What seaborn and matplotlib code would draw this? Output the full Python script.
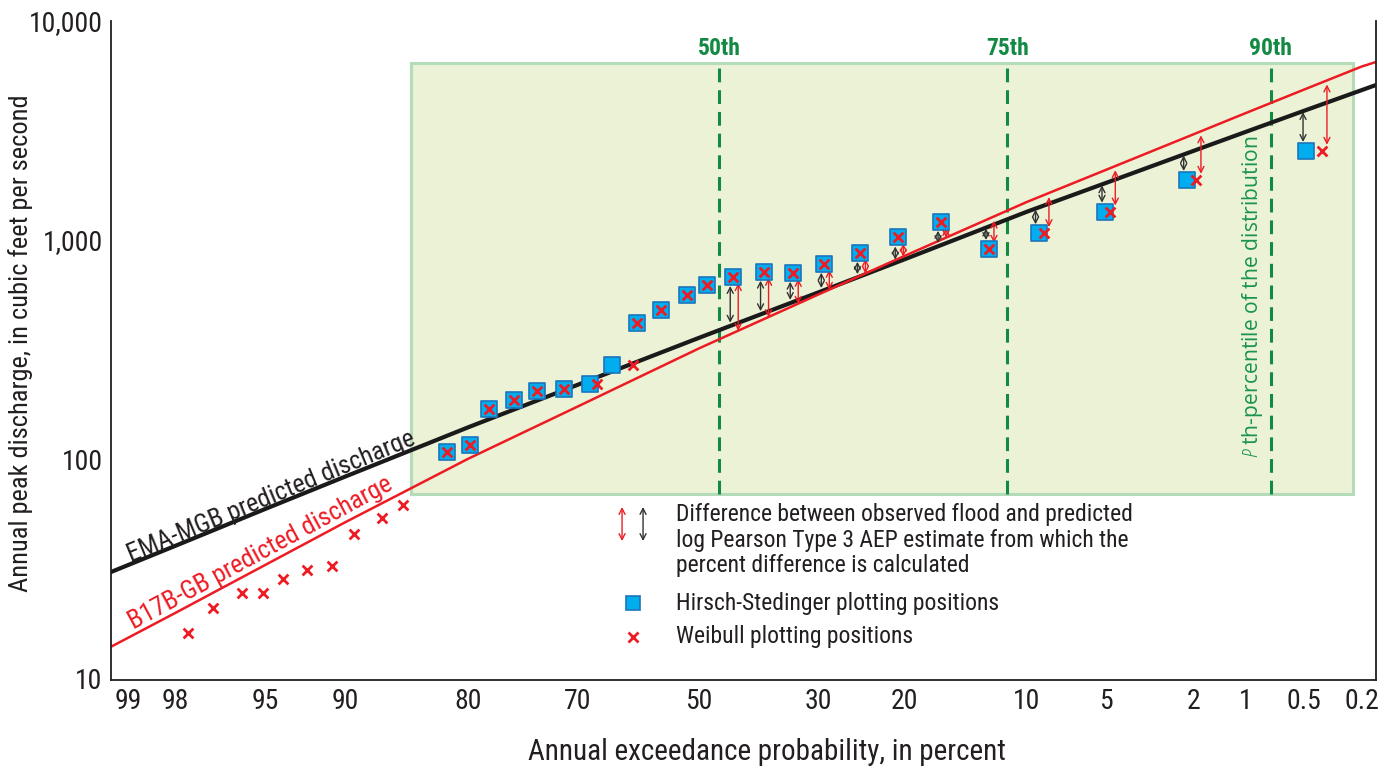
import numpy as np
import pandas as pd
import matplotlib
matplotlib.use("Agg")
import matplotlib.pyplot as plt
import seaborn as sns
from matplotlib.patches import Rectangle
from matplotlib.transforms import ScaledTranslation
from matplotlib import font_manager as fm
from statistics import NormalDist

# ---------------------------------------------------------------- data
aep_ticks = [99, 98, 95, 90, 80, 70, 50, 30, 20, 10, 5, 2, 1, 0.5, 0.2]
aep_tick_labels = ["99", "98", "95", "90", "80", "70", "50", "30", "20",
                   "10", "5", "2", "1", "0.5", "0.2"]
q_ticks = [10, 100, 1000, 10000]
q_tick_labels = ["10", "100", "1,000", "10,000"]

# observed annual peak discharges (cfs)
peak_q = [16.1, 20.9, 24.4, 24.4, 28.4, 31.1, 32.5, 45.6, 54.0, 61.5,
          108, 116, 170, 186, 205, 209, 220, 268, 417, 479, 559, 623,
          678, 717, 709, 780, 875, 1027, 1212, 910, 1073, 1347, 1879, 2550]
# Weibull plotting positions (AEP, percent) for every flood
weibull_aep = [97.7, 97.0, 96.0, 95.1, 94.1, 92.7, 91.0, 89.4, 87.5, 85.9,
               82.0, 79.8, 78.3, 76.1, 74.0, 71.4, 67.1, 61.2, 60.6, 56.5,
               52.1, 48.6, 44.0, 38.8, 33.9, 29.2, 24.8, 20.6, 16.5, 12.6,
               8.7, 4.8, 1.95, 0.38]
# Hirsch-Stedinger plotting positions for the 24 largest floods (last 24 above)
hs_aep = [82.0, 79.8, 78.3, 76.1, 74.0, 71.4, 68.2, 64.7, 60.6, 56.5,
          52.1, 48.6, 44.0, 38.8, 33.9, 29.2, 24.8, 20.6, 16.5, 12.6,
          9.1, 5.05, 2.17, 0.485]

# predicted log Pearson Type 3 frequency curves
curve_aep = [99.0, 98, 95, 90, 80, 70, 50, 30, 20, 10, 5, 2, 1, 0.5, 0.2, 0.158]
ema_mgb_q = [30.5, 40.1, 59.1, 83.1, 139.5, 218.6, 357.6, 575.9, 814.7,
             1347, 1823, 2557, 3120, 3891, 4840, 5104]
b17b_gb_q = [13.9, 19.8, 32.8, 51.4, 100.2, 174, 320, 563, 844,
             1493, 2092, 3045, 3802, 4862, 6203, 6500]

# percentiles of the distribution
pct_labels = ["50th", "75th", "90th"]
pct_aep = [46.5, 11.3, 0.75]
# highlighted region
box_aep = [85.2, 0.23]
box_q = [69, 6400]

legend_texts = ["Difference between observed flood and predicted",
                "log Pearson Type 3 AEP estimate from which the",
                "percent difference is calculated",
                "Hirsch-Stedinger plotting positions",
                "Weibull plotting positions"]

# ---------------------------------------------------------------- style
sns.set_theme(style="white")
names = {f.name for f in fm.fontManager.ttflist}
NARROW = "Roboto Condensed" if "Roboto Condensed" in names else "DejaVu Sans"
OPEN = "Open Sans" if "Open Sans" in names else "DejaVu Sans"
plt.rcParams["font.family"] = [NARROW, "DejaVu Sans"]
plt.rcParams["font.stretch"] = "condensed"
plt.rcParams["mathtext.fontset"] = "custom"
plt.rcParams["mathtext.it"] = f"{OPEN}:italic"
plt.rcParams["mathtext.rm"] = OPEN

TXT = "#231f20"
RED = "#ed1c24"
BLUE = "#00aeef"
BLUE_EDGE = "#1c75bc"
GREEN = "#138a43"
GREEN_TXT = "#18944a"
BOX_FILL = "#ebf2d6"
BOX_EDGE = "#b5dcb8"

# ---------------------------------------------------------------- probability scale
# drafted probability paper: axis fraction at which each labelled AEP sits
AXIS_FRAC = [0.0, 0.0506, 0.1217, 0.1850, 0.2822, 0.3692, 0.4648, 0.5589,
             0.6269, 0.7241, 0.7866, 0.8561, 0.8972, 0.9431, 0.9889]
_nd = NormalDist()
_inv = np.vectorize(lambda q: _nd.inv_cdf(q) if np.isfinite(q) else np.nan, otypes=[float])
_cdf = np.vectorize(lambda z: _nd.cdf(z) if np.isfinite(z) else np.nan, otypes=[float])
TICK_Z = _inv(1 - np.array(aep_ticks) / 100.0)


def _pw(x, xp, fp):
    x = np.asarray(x, dtype=float)
    shp = x.shape
    x = np.atleast_1d(x).ravel()
    xp = np.asarray(xp, float)
    fp = np.asarray(fp, float)
    y = np.interp(x, xp, fp)
    lo = x < xp[0]
    hi = x > xp[-1]
    y[lo] = fp[0] + (x[lo] - xp[0]) * (fp[1] - fp[0]) / (xp[1] - xp[0])
    y[hi] = fp[-1] + (x[hi] - xp[-1]) * (fp[-1] - fp[-2]) / (xp[-1] - xp[-2])
    return y.reshape(shp)


def aep_forward(p):
    p = np.clip(np.asarray(p, dtype=float), 1e-7, 100 - 1e-7)
    return _pw(_inv(1 - p / 100.0), TICK_Z, AXIS_FRAC)


def aep_inverse(u):
    z = _pw(u, AXIS_FRAC, TICK_Z)
    return 100.0 * (1 - _cdf(z))


# ---------------------------------------------------------------- figure
fig = plt.figure(figsize=(13.92, 7.71), dpi=100)
ax = fig.add_axes([111 / 1392, 91 / 771, 1265 / 1392, 659 / 771])
ax.set_xscale("function", functions=(aep_forward, aep_inverse))
ax.set_yscale("log")

# highlighted box and percentile lines
ax.add_patch(Rectangle((box_aep[0], box_q[0]), box_aep[1] - box_aep[0],
                       box_q[1] - box_q[0], facecolor=BOX_FILL,
                       edgecolor=BOX_EDGE, lw=2.2, zorder=0.5))
ax.vlines(pct_aep, box_q[0], box_q[1], colors=GREEN, lw=2.2,
          linestyles=(0, (4.5, 2.6)), zorder=1)
for lab, p in zip(pct_labels, pct_aep):
    ax.text(p, 7500, lab, color=GREEN, fontsize=17, fontweight="bold",
            ha="center", va="center")

# frequency curves
sns.lineplot(x=curve_aep, y=ema_mgb_q, color="#1a1a1a", lw=3.0, sort=False,
             estimator=None, ax=ax, zorder=2)
sns.lineplot(x=curve_aep, y=b17b_gb_q, color=RED, lw=1.8, sort=False,
             estimator=None, ax=ax, zorder=2.1)

# difference arrows
u_curve = aep_forward(curve_aep)


def curve_at(p, curve_q):
    return float(10 ** np.interp(aep_forward(p), u_curve, np.log10(curve_q)))


n_hs = len(hs_aep)
hs_q = peak_q[-n_hs:]
arrow_style = "<->,head_length=0.35,head_width=0.18"
for p, q in zip(hs_aep, hs_q):
    if p < pct_aep[0]:
        tr = ax.transData + ScaledTranslation(-3 / 100, 0, fig.dpi_scale_trans)
        ax.annotate("", xy=(p, curve_at(p, ema_mgb_q)), xytext=(p, q),
                    xycoords=tr, textcoords=tr,
                    arrowprops=dict(arrowstyle=arrow_style, color="#333333",
                                    lw=1.0, shrinkA=6.5, shrinkB=1.5),
                    zorder=2.5)
for p, q in zip(weibull_aep, peak_q):
    if p < pct_aep[0]:
        tr = ax.transData + ScaledTranslation(5 / 100, 0, fig.dpi_scale_trans)
        ax.annotate("", xy=(p, curve_at(p, b17b_gb_q)), xytext=(p, q),
                    xycoords=tr, textcoords=tr,
                    arrowprops=dict(arrowstyle=arrow_style, color=RED,
                                    lw=1.0, shrinkA=4.5, shrinkB=1.5),
                    zorder=2.5)

# plotting positions
sns.scatterplot(x=hs_aep, y=hs_q, marker="s", s=120, color=BLUE,
                edgecolor=BLUE_EDGE, linewidth=1.2, ax=ax, zorder=3, legend=False)
sns.scatterplot(x=weibull_aep, y=peak_q, marker="x", s=50, color=RED,
                linewidth=2.0, ax=ax, zorder=4, legend=False)

# curve labels
ax.text(94.7, 67.3, "EMA-MGB predicted discharge", color=TXT, fontsize=18.5,
        rotation=22.5, ha="center", va="center", rotation_mode="anchor")
ax.text(95.2, 37.2, "B17B-GB predicted discharge", color=RED, fontsize=18.5,
        rotation=28.4, ha="center", va="center", rotation_mode="anchor")
ax.text(0.93, 549, r"$\mathit{P}$ th-percentile of the distribution", color=GREEN_TXT,
        fontsize=15.2, family=OPEN, stretch="normal", rotation=90,
        ha="center", va="center")

# ---------------------------------------------------------------- axes cosmetics
ax.set_xticks(aep_ticks)
ax.set_xticklabels(aep_tick_labels)
ax.set_yticks(q_ticks)
ax.set_yticklabels(q_tick_labels)
ax.minorticks_off()
ax.set_xlim(99.0, float(aep_inverse(1.0)))
ax.set_ylim(9.8, 10000)
if ax.transData.transform((99.0, 100.0))[0] > ax.transData.transform((1.0, 100.0))[0]:
    ax.invert_xaxis()

ax.tick_params(axis="both", direction="in", length=9, width=1.2, colors=TXT,
               labelsize=20, pad=6)
xl = ax.get_xticklabels()
xl[0].set_transform(xl[0].get_transform() + ScaledTranslation(17 / 100, 0, fig.dpi_scale_trans))
ax.xaxis.get_major_ticks()[0].tick1line.set_visible(False)

for side in ["left", "bottom", "right"]:
    ax.spines[side].set_color("#231f20")
    ax.spines[side].set_linewidth(1.3)
ax.spines["top"].set_visible(False)

ax.set_xlabel("Annual exceedance probability, in percent", fontsize=21, color=TXT)
ax.xaxis.set_label_coords(0.5186, -0.088)
ax.set_ylabel("Annual peak discharge, in cubic feet per second", fontsize=19, color=TXT)
ax.yaxis.set_label_coords(-0.0617, 0.511)

# ---------------------------------------------------------------- legend
aprops = dict(arrowstyle=arrow_style, lw=1.0, shrinkA=0, shrinkB=0)
ax.annotate("", xy=(0.4040, 0.2625), xytext=(0.4040, 0.2109), xycoords="axes fraction",
            arrowprops=dict(color=RED, **aprops))
ax.annotate("", xy=(0.4206, 0.2625), xytext=(0.4206, 0.2109), xycoords="axes fraction",
            arrowprops=dict(color="#333333", **aprops))
ax.plot([0.4127], [0.1168], transform=ax.transAxes, marker="s", ms=10.5,
        color=BLUE, mec=BLUE_EDGE, mew=1.2, ls="none", clip_on=False)
ax.plot([0.4127], [0.0653], transform=ax.transAxes, marker="x", ms=7,
        color=RED, mew=2.0, ls="none", clip_on=False)
for txt, yf in zip(legend_texts, [0.2504, 0.2124, 0.1730, 0.1168, 0.0653]):
    ax.text(0.4466, yf, txt, transform=ax.transAxes, fontsize=17, color=TXT,
            ha="left", va="center")

fig.savefig("out.png", dpi=100)
